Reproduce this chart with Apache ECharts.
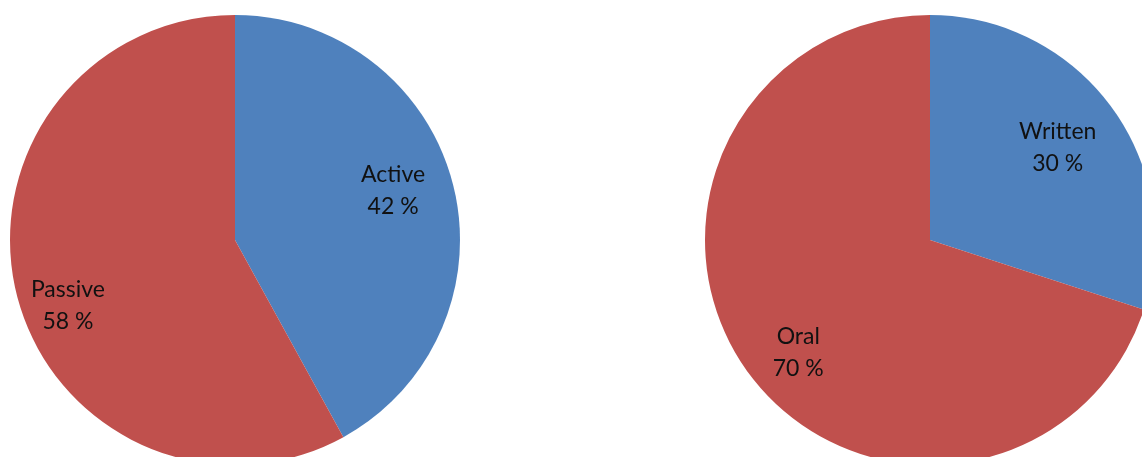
<!DOCTYPE html>
<html>
<head>
<meta charset="utf-8">
<script src="https://cdn.jsdelivr.net/npm/echarts@6/dist/echarts.min.js"></script>
<style>
  html, body { margin: 0; padding: 0; background: #fff; }
  #chart { width: 1142px; height: 457px; }
</style>
</head>
<body>
<div id="chart"></div>
<script>
// data
const leftNames = ['Active', 'Passive'];
const leftValues = [42, 58];
const rightNames = ['Written', 'Oral'];
const rightValues = [30, 70];
const colors = ['#4F81BD', '#C0504D'];

// 标签微调（像素偏移）
const leftOffsets = [[-8, -7], [-1, 23]];
const rightOffsets = [[-11, 8], [7, 12]];

const chart = echarts.init(document.getElementById('chart'));

function toData(names, values, offsets) {
    return names.map((n, i) => ({
        name: n,
        value: values[i],
        label: offsets ? { offset: offsets[i] } : undefined
    }));
}

// 饼图本体
function pieSeries(center, data) {
    return {
        type: 'pie',
        center: center,
        radius: [0, 225],
        startAngle: 90,
        clockwise: true,
        silent: true,
        animation: false,
        label: { show: false },
        labelLine: { show: false },
        itemStyle: { borderWidth: 0 },
        data: data
    };
}

// 透明环，只为把标签放在靠外的位置
function labelSeries(center, data) {
    return {
        type: 'pie',
        center: center,
        radius: [112, 225],
        startAngle: 90,
        clockwise: true,
        silent: true,
        animation: false,
        itemStyle: { color: 'transparent' },
        label: {
            show: true,
            position: 'inside',
            formatter: p => p.name + '\n' + p.value + ' %',
            fontFamily: 'Lato, "Open Sans", sans-serif',
            fontSize: 23,
            lineHeight: 32,
            color: '#111'
        },
        labelLine: { show: false },
        data: data
    };
}

chart.setOption({
    backgroundColor: '#ffffff',
    color: colors,
    series: [
        pieSeries([235, 240], toData(leftNames, leftValues)),
        pieSeries([930, 240], toData(rightNames, rightValues)),
        labelSeries([235, 240], toData(leftNames, leftValues, leftOffsets)),
        labelSeries([930, 240], toData(rightNames, rightValues, rightOffsets))
    ]
});
</script>
</body>
</html>
